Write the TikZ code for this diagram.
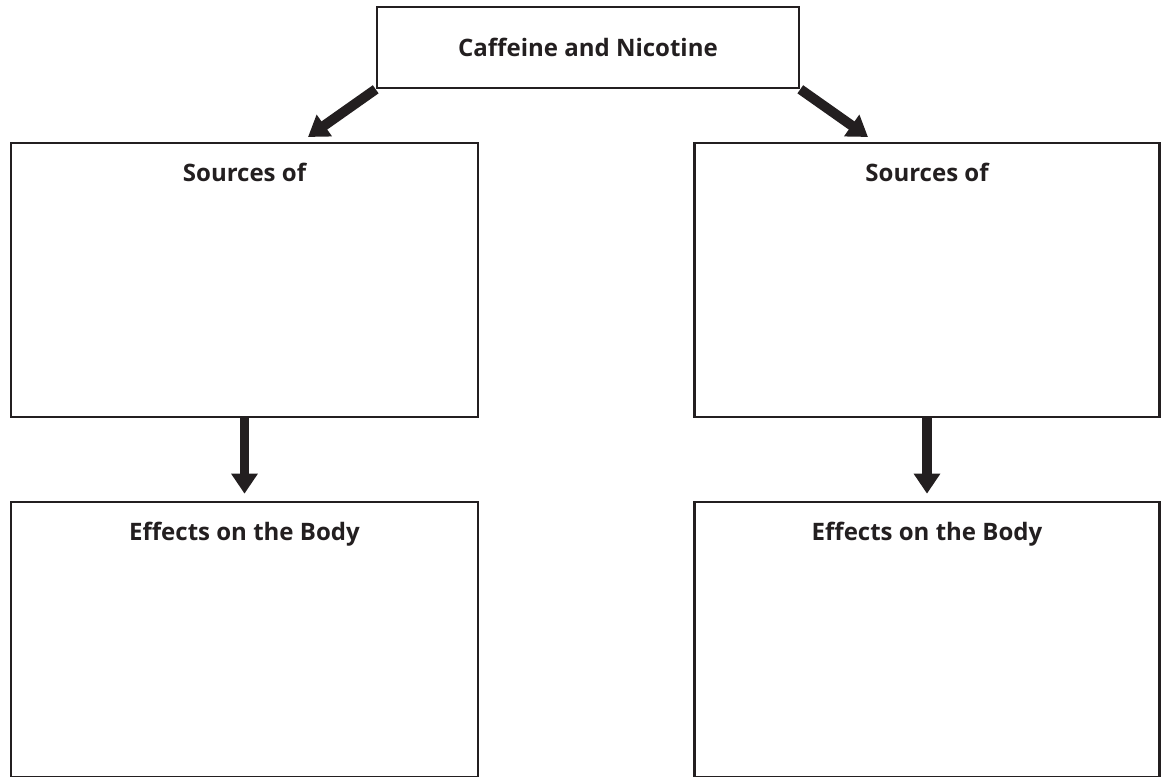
\documentclass[tikz,border=0pt]{standalone}
\usepackage{fontspec}
\setmainfont{Open Sans}
\usetikzlibrary{arrows.meta}
\definecolor{boxgray}{HTML}{231F20}

\begin{document}
\begin{tikzpicture}[x=0.03cm, y=-0.03cm,
    box/.style={draw=boxgray, line width=2.2pt, inner sep=0pt},
    heading/.style={font=\fontsize{20.5}{24}\selectfont\bfseries, text=boxgray},
    bigarrow/.style={draw=boxgray, line width=8.5pt, -{Triangle[width=0.76cm, length=0.6cm]}}]
    \useasboundingbox (0,0) rectangle (1162,777);
    \clip (0,0) rectangle (1162,777);

    % Title box
    \node[box, heading, minimum width=12.66cm, minimum height=2.43cm] (title) at (588,47.5) {Caffeine and Nicotine};

    % Sources boxes
    \node[box, minimum width=14.01cm, minimum height=8.22cm,
        label={[heading, anchor=base, yshift=-1.2cm]north:Sources of}] (srcL) at (244.5,280) {};
    \node[box, minimum width=13.95cm, minimum height=8.22cm,
        label={[heading, anchor=base, yshift=-1.2cm]north:Sources of}] (srcR) at (927,280) {};

    % Effects boxes
    \node[box, minimum width=14.01cm, minimum height=8.25cm,
        label={[heading, anchor=base, yshift=-1.2cm]north:Effects on the Body}] (effL) at (244.5,639.5) {};
    \node[box, minimum width=13.95cm, minimum height=8.25cm,
        label={[heading, anchor=base, yshift=-1.2cm]north:Effects on the Body}] (effR) at (927,639.5) {};

    % Arrows
    \coordinate (tipL) at (308,137);
    \coordinate (tipR) at (868,137);
    \draw[bigarrow] (title.south west) -- (tipL);
    \draw[bigarrow] (title.south east) -- (tipR);
    \draw[bigarrow, shorten >=0.21cm] (srcL) -- (effL);
    \draw[bigarrow, shorten >=0.21cm] (srcR) -- (effR);
\end{tikzpicture}
\end{document}
